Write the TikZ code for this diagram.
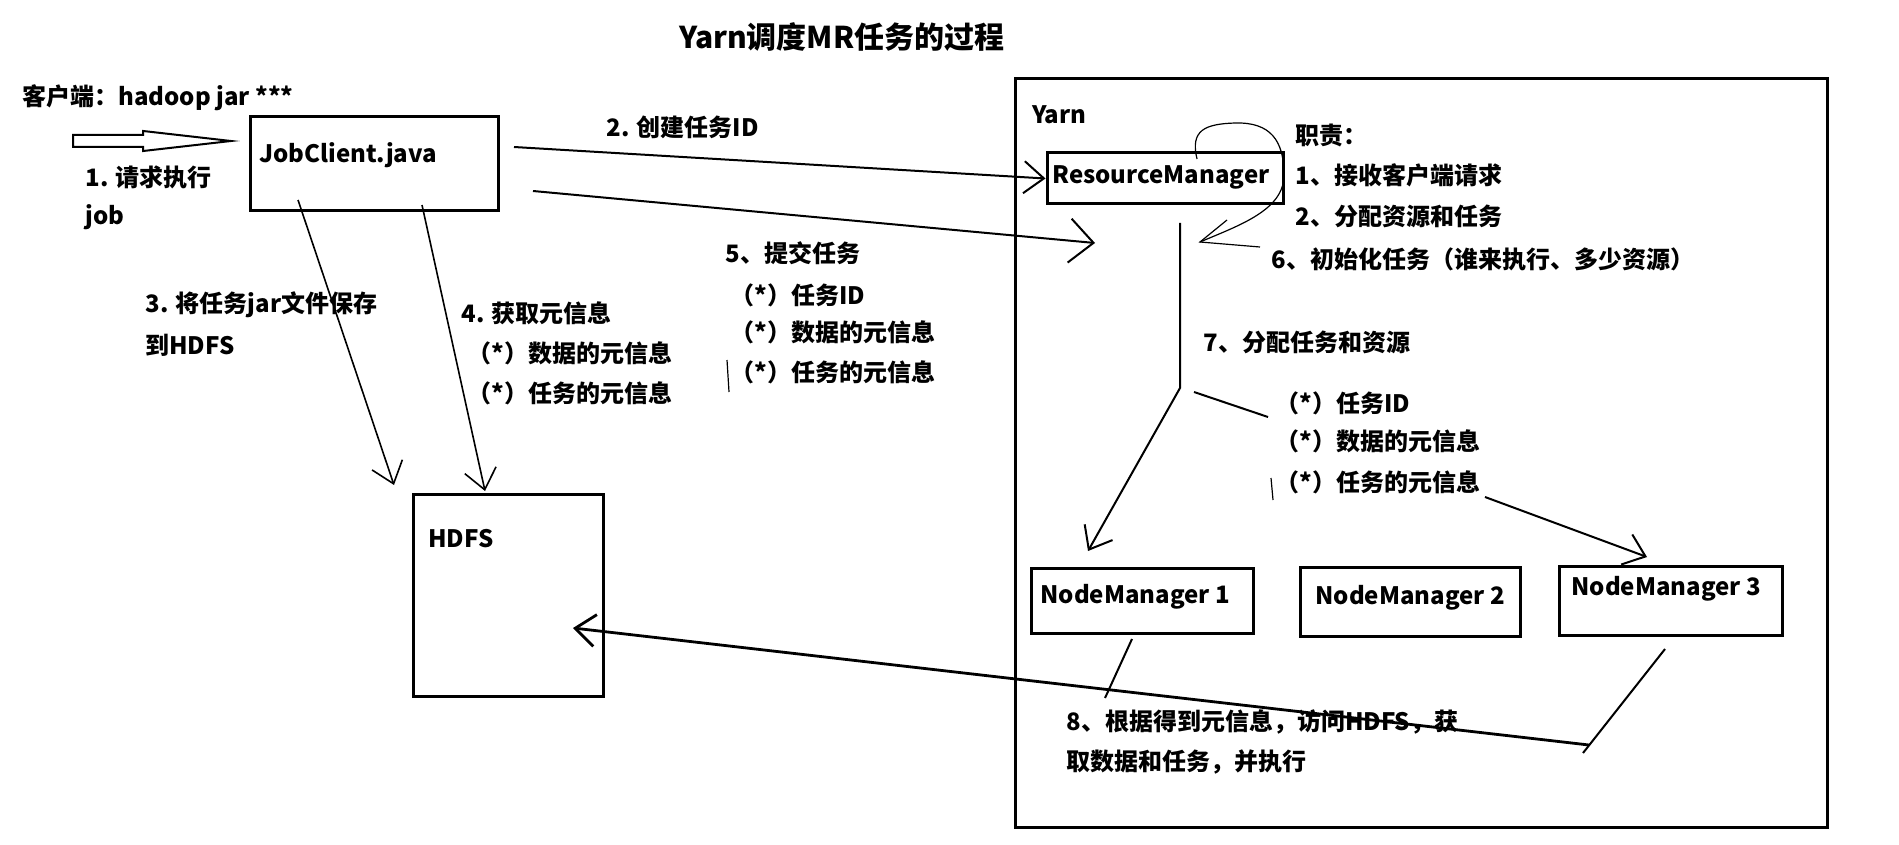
\documentclass[tikz,border=0pt]{standalone}
\usepackage{fontspec}
\setmainfont{Noto Sans CJK SC}
\usetikzlibrary{shapes.arrows,arrows.meta}

\tikzset{
  txt/.style={anchor=west, inner sep=0pt, font=\bfseries\fontsize{12}{14}\selectfont},
  box/.style={draw, line width=1.5pt, inner sep=0pt},
  hand/.style={line width=1pt, -{Straight Barb[length=10pt,width=16pt]}},
  bighand/.style={line width=1pt, -{Straight Barb[length=12pt,width=22pt]}},
}

\begin{document}
\begin{tikzpicture}[x=0.5pt,y=-0.5pt]
    \useasboundingbox (0,0) rectangle (1899,845);
    \node[txt, font=\bfseries\fontsize{15}{18}\selectfont] (title) at (679,37) {Yarn调度MR任务的过程};
    % client side
    \node[txt] (client) at (22,98) {客户端：hadoop jar ***};
    \node[single arrow, draw, line width=1pt, inner sep=2.5pt, minimum height=79pt,
          single arrow head extend=2pt, single arrow tip angle=13, anchor=tail] (req) at (72,141) {};
    \node[txt] (s1) at (85,177) {1. 请求执行};
    \node[txt] (s1b) at (85,217) {job};
    \node[box, minimum width=124pt, minimum height=47pt] (jc) at (374,164) {};
    \node[txt] (jctext) at (259,155) {JobClient.java};
    \node[box, minimum width=95pt, minimum height=101pt] (hdfs) at (508,595) {};
    \node[txt] (hdfstext) at (428,539) {HDFS};
    %
    \node[txt] (s2) at (606,127) {2. 创建任务ID};
    \node[txt] (s3) at (145,305) {3. 将任务jar文件保存};
    \node[txt] (s3b) at (145,345) {到HDFS};
    \node[txt] (s4) at (461,313) {4. 获取元信息};
    \node[txt] (s4b) at (467,353) {（*）数据的元信息};
    \node[txt] (s4c) at (467,393) {（*）任务的元信息};
    \node[txt] (s5) at (725,253) {5、提交任务};
    \node[txt] (s5b) at (730,295) {（*）任务ID};
    \node[txt] (s5c) at (730,332) {（*）数据的元信息};
    \node[txt] (s5d) at (730,372) {（*）任务的元信息};
    % Yarn
    \node[box, minimum width=406pt, minimum height=374pt] (yarn) at (1421,453) {};
    \node[txt] (yarntext) at (1032,115) {Yarn};
    \node[box, minimum width=118pt, minimum height=25.5pt] (rm) at (1165,178.5) {};
    \node[txt] (rmtext) at (1052,177) {ResourceManager};
    \node[txt] (duty) at (1295,135) {职责：};
    \node[txt] (duty1) at (1295,175) {1、接收客户端请求};
    \node[txt] (duty2) at (1295,216) {2、分配资源和任务};
    \node[txt] (s6) at (1271,259) {6、初始化任务（谁来执行、多少资源）};
    \node[txt] (s7) at (1203,342) {7、分配任务和资源};
    \node[txt] (s7b) at (1275,403) {（*）任务ID};
    \node[txt] (s7c) at (1275,441) {（*）数据的元信息};
    \node[txt] (s7d) at (1275,482) {（*）任务的元信息};
    \node[box, minimum width=111pt, minimum height=32.5pt] (nm1) at (1142,600.5) {};
    \node[box, minimum width=110pt, minimum height=34.5pt] (nm2) at (1410,601.5) {};
    \node[box, minimum width=111.5pt, minimum height=34.5pt] (nm3) at (1670.5,600.5) {};
    \node[txt] (nm1text) at (1040,597) {NodeManager 1};
    \node[txt] (nm2text) at (1315,598) {NodeManager 2};
    \node[txt] (nm3text) at (1571,589) {NodeManager 3};
    \node[txt] (s8) at (1066,722) {8、根据得到元信息，访问HDFS，获};
    \node[txt] (s8b) at (1066,762) {取数据和任务，并执行};
    % free ends
    \coordinate (a2) at (514,147);
    \coordinate (a5) at (533,191);
    \coordinate (t5) at (1095,243);
    \coordinate (a3) at (298,200);
    \coordinate (t3) at (394,485);
    \coordinate (a4) at (422,205);
    \coordinate (t4) at (485,491);
    \coordinate (a7) at (1180,223);
    \coordinate (m7) at (1180,388);
    \coordinate (t7) at (1088,551);
    \coordinate (t7b) at (1647,557);
    \coordinate (a8) at (1589,745);
    \coordinate (t8) at (573,628);
    \coordinate (loop) at (1197,159);
    \coordinate (tloop) at (1200,242);
    % connectors
    \draw[hand] (a2) -- (rm.west);
    \draw[bighand] (a5) -- (t5);
    \draw[hand, line width=0.8pt] (a3) -- (t3);
    \draw[hand, line width=0.8pt] (a4) -- (t4);
    \draw[line width=0.6pt] (loop) .. controls (1190,130) and (1205,124) .. (1235,123)
        .. controls (1270,122) and (1284,140) .. (1284,175)
        .. controls (1284,210) and (1240,225) .. (tloop);
    \draw[line width=0.6pt] (1227,220) -- (tloop) -- (1260,247);
    \draw[hand] (a7) -- (m7) -- (t7);
    \draw[line width=1pt] (1194,392) -- (1268,417);
    \draw[hand] (1485,497) -- (t7b);
    \draw[line width=1pt] (1132,639) -- (1105,698);
    \draw[line width=1pt] (1665,649) -- (1583,753);
    \draw[hand, line width=1.4pt] (a8) -- (t8);
    % stray marks
    \draw[line width=0.6pt] (727,360) -- (729,392);
    \draw[line width=0.6pt] (1271,478) -- (1273,500);
\end{tikzpicture}
\end{document}
